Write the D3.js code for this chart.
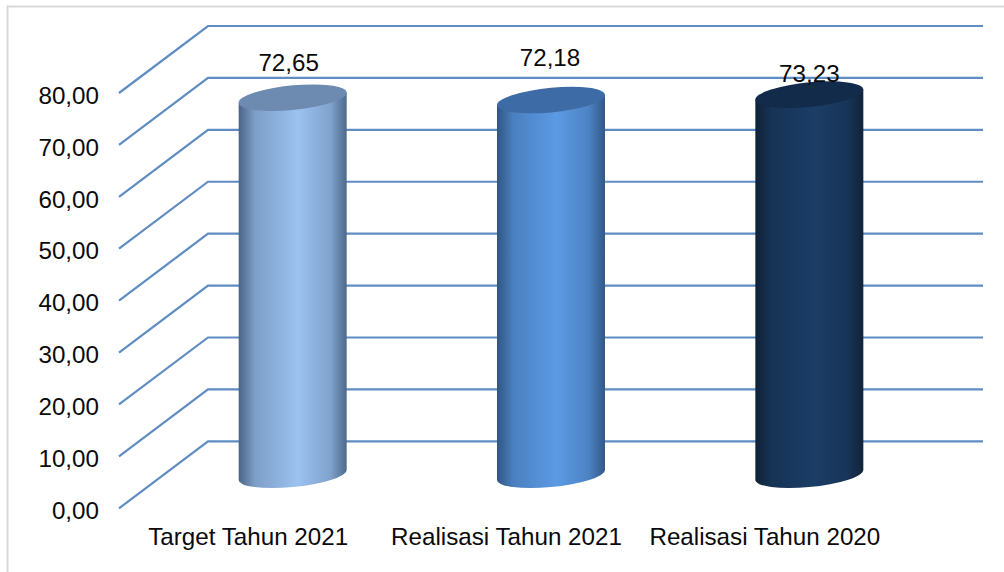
<!DOCTYPE html>
<html><head><meta charset="utf-8">
<script src="https://cdnjs.cloudflare.com/ajax/libs/d3/7.8.5/d3.min.js"></script>
<style>
html,body{margin:0;padding:0;background:#fff}
svg{display:block}
text{font-family:"Liberation Sans",Arial,sans-serif;font-size:24.2px;fill:#0a0a0a}
</style></head><body><svg id="c" width="1004" height="572"></svg>
<script>
const categories = ["Target Tahun 2021", "Realisasi Tahun 2021", "Realisasi Tahun 2020"];
const values = [72.65, 72.18, 73.23];
const ticks = [0, 10, 20, 30, 40, 50, 60, 70, 80];
const edgeColors = ["#4a6485", "#2f5583", "#0f2239"];
const midColors = ["#9cc2f0", "#5c9ae4", "#1c3d66"];
const topColors = ["#6d8bb0", "#3c6ba6", "#132b4b"];
const labelShift = [[-4, -35], [-1, -42.5], [0, -21]];

const W = 1004, H = 572;
const dx = 89, dy = -67;
const svg = d3.select("#c");
const fmt = v => d3.format(".2f")(v).replace(".", ",");
const y = d3.scaleLinear().domain([0, 80]).range([508.3, 93]);
const x = d3.scaleBand().domain(categories).range([119, 894]);
const barW = 108, ry = 12.3, tilt = 5;
const font = '"Liberation Sans",Arial,sans-serif';

// frame
svg.append("path").attr("d", `M7.5 ${H}V6.5H${W}`).attr("fill", "none").attr("stroke", "#d9d9d9").attr("stroke-width", 2);

// grid
svg.append("g").selectAll("path").data(ticks).join("path")
  .attr("d", d => `M119 ${y(d)}L${119 + dx} ${y(d) + dy}H983`)
  .attr("fill", "none").attr("stroke", "#5f8cc2").attr("stroke-width", 2.2);

// gradients
const defs = svg.append("defs");
categories.forEach((c, i) => {
  const g = defs.append("linearGradient").attr("id", "g" + i).attr("x1", 0).attr("x2", 1).attr("y1", 0).attr("y2", 0);
  const mix = d3.interpolateRgb(edgeColors[i], midColors[i]);
  [[0, 0], [0.15, 0.62], [0.55, 1], [0.85, 0.66], [1, 0.05]].forEach(s =>
    g.append("stop").attr("offset", s[0]).attr("stop-color", mix(s[1])));
});

// cylinders
const base = y(0) + dy / 2;
const bars = svg.append("g").selectAll("g").data(categories).join("g")
  .attr("transform", d => `matrix(1,${-tilt / (barW / 2)},0,1,${x(d) + x.bandwidth() / 2 + dx / 2},0)`);
bars.append("path")
  .attr("d", (d, i) => {
    const t = y(values[i]) + dy / 2;
    return `M${-barW / 2} ${t}V${base}A${barW / 2} ${ry} 0 0 0 ${barW / 2} ${base}V${t}Z`;
  })
  .attr("fill", (d, i) => `url(#g${i})`);
bars.append("ellipse")
  .attr("rx", barW / 2).attr("ry", ry)
  .attr("cy", (d, i) => y(values[i]) + dy / 2)
  .attr("fill", (d, i) => topColors[i]);

// value labels
svg.append("g").selectAll("text").data(values).join("text")
  .attr("text-anchor", "middle").attr("dominant-baseline", "central")
  .attr("x", (d, i) => x(categories[i]) + x.bandwidth() / 2 + dx / 2 + labelShift[i][0])
  .attr("y", (d, i) => y(d) + dy / 2 + labelShift[i][1])
  .text(fmt);

// axes
const ay = svg.append("g").attr("transform", "translate(119,1.5)")
  .call(d3.axisLeft(y).tickValues(ticks).tickFormat(fmt).tickSize(0).tickPadding(20));
ay.select(".domain").remove();
ay.selectAll("text").attr("dy", "0.36em").style("font-size", "24.2px").style("font-family", font);
const ax = svg.append("g").attr("transform", "translate(0,527.5)")
  .call(d3.axisBottom(x).tickSize(0).tickPadding(0));
ax.select(".domain").remove();
ax.selectAll("text").attr("dy", "0.71em").style("font-size", "24.2px").style("font-family", font);
</script></body></html>
